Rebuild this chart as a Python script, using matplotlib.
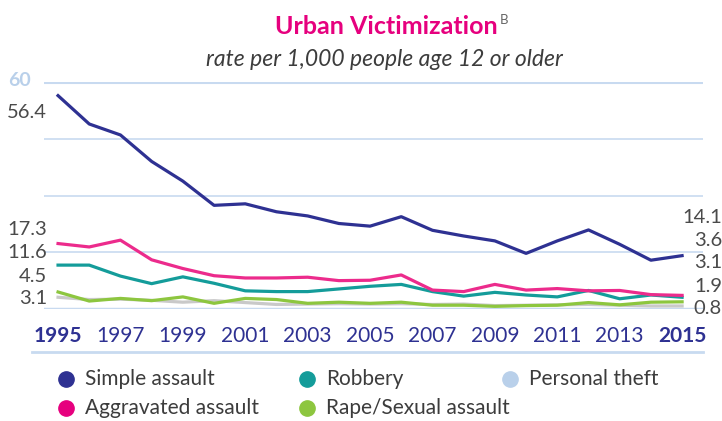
import matplotlib.pyplot as plt
from matplotlib.lines import Line2D

plt.rcParams['font.family'] = ['Lato', 'DejaVu Sans']

years = list(range(1995, 2016))
simple_assault = [56.4, 48.9, 46.0, 39.0, 33.8, 27.4, 27.8, 25.7, 24.6, 22.6, 21.9,
                  24.4, 20.8, 19.3, 18.0, 14.7, 18.0, 20.9, 17.1, 12.9, 14.1]
aggravated = [17.3, 16.4, 18.2, 13.0, 10.7, 8.8, 8.2, 8.2, 8.4, 7.5, 7.6,
              9.0, 5.0, 4.6, 6.5, 5.0, 5.4, 4.8, 4.9, 3.8, 3.6]
robbery = [11.6, 11.6, 8.7, 6.7, 8.5, 6.8, 4.8, 4.6, 4.6, 5.3, 6.0,
           6.5, 4.6, 3.4, 4.4, 3.7, 3.2, 4.9, 2.7, 3.7, 3.1]
rape = [4.5, 2.1, 2.8, 2.2, 3.2, 1.5, 2.8, 2.5, 1.5, 1.8, 1.5,
        1.8, 1.0, 1.0, 0.7, 0.9, 1.0, 1.7, 1.1, 1.8, 1.9]
personal_theft = [3.1, 2.5, 2.6, 2.3, 1.8, 2.2, 1.7, 1.2, 1.3, 1.4, 1.3,
                  1.4, 1.2, 1.3, 0.9, 1.0, 1.1, 1.2, 1.0, 0.8, 0.8]
year_ticks = [1995, 1997, 1999, 2001, 2003, 2005, 2007, 2009, 2011, 2013, 2015]
grid_vals = [15, 30, 45]

navy = '#2e3192'
pink = '#ec2b8c'
teal = '#149c9a'
green = '#8dc63f'
gray = '#c9c9c9'
lightblue = '#b9d0ea'
gridblue = '#c8daf0'
txt = '#4a4a4a'

W, H = 722, 421
fig = plt.figure(figsize=(W / 100, H / 100), dpi=100)

def fx(px):
    return px / W

def fy(py):
    return 1 - py / H

ax = fig.add_axes([fx(44), fy(309), fx(703) - fx(44), fy(82) - fy(309)])
ax.set_xlim(1994.55, 2015.67)
ax.set_ylim(0, 60)
for s in ax.spines.values():
    s.set_visible(False)
ax.set_yticks([])

for g in grid_vals:
    ax.axhline(g, color=gridblue, lw=1.2, zorder=0)
ax.axhline(60, color=gridblue, lw=2.2, zorder=0)
ax.axhline(0, color=gridblue, lw=2.5, zorder=0)

series = [
    (personal_theft, gray),
    (rape, green),
    (robbery, teal),
    (aggravated, pink),
    (simple_assault, navy),
]
for vals, c in series:
    ax.plot(years, vals, color=c, lw=2.3, solid_joinstyle='round', clip_on=False, zorder=3)

ax.set_xticks(year_ticks)
ax.set_xticklabels([str(y) for y in year_ticks])
ax.tick_params(axis='x', length=0, pad=12, labelsize=15, labelcolor=navy)
for lbl in ax.get_xticklabels():
    if lbl.get_text() in ('1995', '2015'):
        lbl.set_fontweight('bold')

# bottom rule under the years
fig.add_artist(Line2D([fx(32), fx(703)], [fy(352), fy(352)], color=gridblue, lw=2))

# title
fig.text(fx(498), fy(27), 'Urban Victimization', ha='right', va='center',
         fontsize=18, fontweight='bold', color='#e6007e')
fig.text(fx(500), fy(20), 'B', ha='left', va='center', fontsize=9.5, color='#666666')
fig.text(fx(384), fy(60), 'rate per 1,000 people age 12 or older', ha='center', va='center',
         fontsize=16.5, style='italic', color='#3c3c3c')

# left labels (1995 values)
fig.text(fx(31), fy(81), '60', ha='right', va='center', fontsize=14,
         fontweight='bold', color=lightblue)
left_y = [112, 229, 253, 277, 299]
left_vals = [simple_assault[0], aggravated[0], robbery[0], rape[0], personal_theft[0]]
for v, py in zip(left_vals, left_y):
    fig.text(fx(47), fy(py), f'{v:.1f}', ha='right', va='center', fontsize=14.5, color=txt)

# right labels (2015 values)
right_y = [217, 240, 263, 286, 308]
right_vals = [simple_assault[-1], aggravated[-1], robbery[-1], rape[-1], personal_theft[-1]]
for v, py in zip(right_vals, right_y):
    fig.text(fx(722), fy(py), f'{v:.1f}', ha='right', va='center', fontsize=14.5, color=txt)

# legend
legend_items = [
    ('Simple assault', navy, 66, 379),
    ('Aggravated assault', '#e6007e', 66, 408),
    ('Robbery', teal, 307, 379),
    ('Rape/Sexual assault', green, 307, 408),
    ('Personal theft', lightblue, 510, 379),
]
for name, c, px, py in legend_items:
    fig.add_artist(Line2D([fx(px)], [fy(py)], marker='o', markersize=11,
                          color=c, linestyle='none'))
    fig.text(fx(px + 19), fy(py), name, ha='left', va='center', fontsize=15, color='#3c3c3c')

plt.savefig('out.png', dpi=100)
